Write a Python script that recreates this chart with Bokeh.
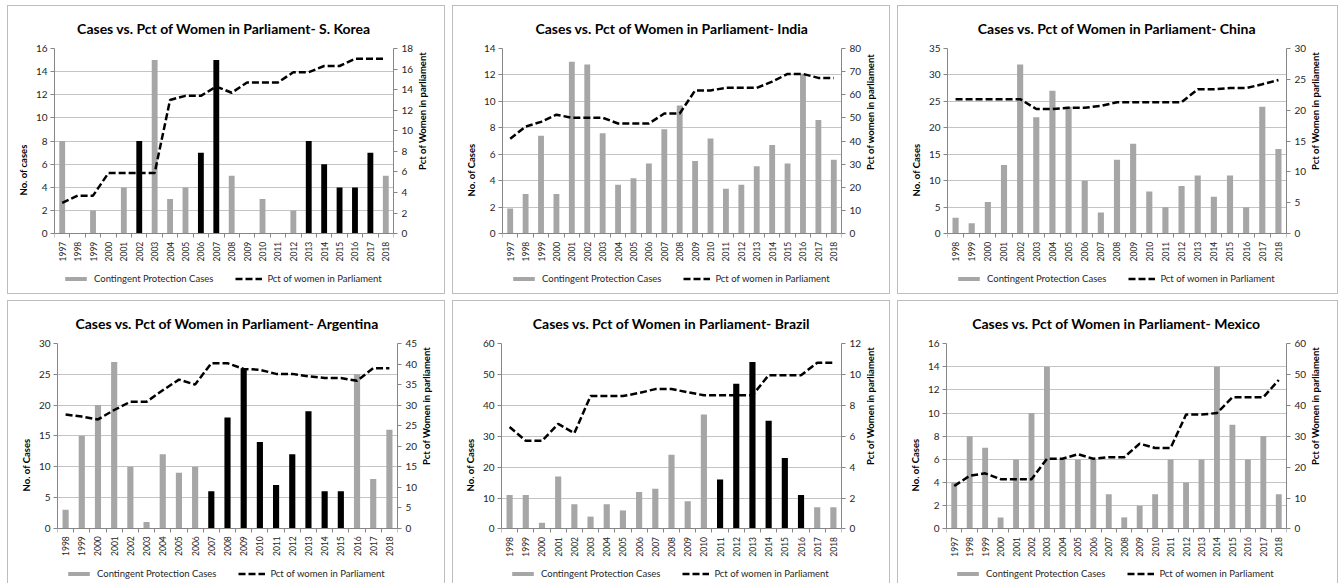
import math

from bokeh.plotting import figure
from bokeh.models import (ColumnDataSource, Range1d, LinearAxis, FixedTicker,
                          Legend, LegendItem)
from bokeh.layouts import row, column
from bokeh.embed import file_html
from bokeh.resources import INLINE

# ---- data -------------------------------------------------------------
korea_years = list(range(1997, 2019))
korea_cases = [8, 0, 2, 0, 4, 8, 15, 3, 4, 7, 15, 5, 0, 3, 0, 2, 8, 6, 4, 4, 7, 5]
korea_pct = [3.0, 3.7, 3.7, 5.9, 5.9, 5.9, 5.9, 13.0, 13.4, 13.4, 14.3, 13.7,
             14.7, 14.7, 14.7, 15.7, 15.7, 16.3, 16.3, 17.0, 17.0, 17.0]
korea_dark = [2002, 2006, 2007, 2013, 2014, 2015, 2016, 2017]

india_years = list(range(1997, 2019))
india_cases = [1.9, 3.0, 7.4, 3.0, 13.0, 12.8, 7.6, 3.7, 4.2, 5.3, 7.9, 9.7,
               5.5, 7.2, 3.4, 3.7, 5.1, 6.7, 5.3, 12.1, 8.6, 5.6]
india_pct = [41.0, 46.3, 48.3, 51.4, 50.1, 50.1, 50.1, 47.6, 47.6, 47.6, 51.9,
             51.9, 61.9, 61.9, 63.0, 63.0, 63.0, 65.7, 69.0, 69.0, 67.3, 67.3]
india_dark = []

china_years = list(range(1998, 2019))
china_cases = [3, 2, 6, 13, 32, 22, 27, 24, 10, 4, 14, 17, 8, 5, 9, 11, 7, 11,
               5, 24, 16]
china_pct = [21.8, 21.8, 21.8, 21.8, 21.8, 20.2, 20.2, 20.4, 20.4, 20.7, 21.3,
             21.3, 21.3, 21.3, 21.3, 23.4, 23.4, 23.6, 23.6, 24.2, 24.9]
china_dark = []

argentina_years = list(range(1998, 2019))
argentina_cases = [3, 15, 20, 27, 10, 1, 12, 9, 10, 6, 18, 26, 14, 7, 12, 19,
                   6, 6, 25, 8, 16]
argentina_pct = [27.7, 27.2, 26.5, 28.8, 30.8, 30.8, 33.6, 36.2, 35.0, 40.2,
                 40.2, 38.8, 38.6, 37.6, 37.6, 37.0, 36.6, 36.6, 35.9, 39.0, 39.0]
argentina_dark = list(range(2007, 2016))

brazil_years = list(range(1998, 2019))
brazil_cases = [11, 11, 2, 17, 8, 4, 8, 6, 12, 13, 24, 9, 37, 16, 47, 54, 35,
                23, 11, 7, 7]
brazil_pct = [6.6, 5.7, 5.7, 6.8, 6.2, 8.6, 8.6, 8.6, 8.8, 9.05, 9.05, 8.85,
              8.65, 8.65, 8.65, 8.65, 9.95, 9.95, 9.95, 10.75, 10.75]
brazil_dark = list(range(2011, 2017))

mexico_years = list(range(1997, 2019))
mexico_cases = [4, 8, 7, 1, 6, 10, 14, 6, 6, 6, 3, 1, 2, 3, 6, 4, 6, 14, 9, 6,
                8, 3]
mexico_pct = [13.9, 17.2, 18.0, 16.1, 16.1, 16.1, 22.7, 22.7, 24.2, 22.7, 23.2,
              23.2, 27.6, 26.2, 26.2, 37.0, 37.0, 37.5, 42.6, 42.6, 42.6, 48.2]
mexico_dark = []

BAR_LABEL = "Contingent Protection Cases"
LINE_LABEL = "Pct of women in Parliament"

# ---- styling ----------------------------------------------------------
FONT = "Lato"
BAR_GREY = "#a6a6a6"
AXIS_GREY = "#868686"
GRID_GREY = "#c4c4c4"
TEXT = "#262626"
UPRIGHT = math.pi / 2  # text reading bottom-to-top
BOTTOM_PAD = 2         # canvas space left under the plotting frame


def style_ticks(axis, size):
    axis.major_label_text_font = FONT
    axis.major_label_text_font_size = size
    axis.major_label_text_color = TEXT
    axis.axis_line_color = AXIS_GREY


def style_label(axis, text, standoff):
    axis.axis_label = text
    axis.axis_label_text_font = FONT
    axis.axis_label_text_font_size = "9.5px"
    axis.axis_label_text_font_style = "bold"
    axis.axis_label_text_color = "black"
    axis.axis_label_standoff = standoff


def panel(title, years, cases, pct, dark, cmax, cstep, pmax, pstep,
          left_label, right_label, width, height, margins):
    n = len(years)
    xs = list(range(n))
    colors = ["black" if y in dark else BAR_GREY for y in years]
    src = ColumnDataSource(dict(x=xs, cases=cases, pct=pct, color=colors))

    # The frame reaches down to the panel bottom so the year labels and the
    # legend live inside it; the value axes only cover 0..max via bounds.
    left, right, top, plot_h = margins
    frame_h = height - top - BOTTOM_PAD
    spare = frame_h - plot_h
    c_start = -cmax * spare / plot_h
    p_start = -pmax * spare / plot_h

    p = figure(width=width, height=height, output_backend="svg",
               toolbar_location=None,
               x_range=Range1d(-0.5, n - 0.5), y_range=Range1d(c_start, cmax),
               min_border_left=left, min_border_right=right,
               min_border_top=top, min_border_bottom=BOTTOM_PAD)
    p.extra_y_ranges = {"pct": Range1d(p_start, pmax)}
    p.outline_line_color = None
    p.background_fill_color = "white"
    p.border_fill_color = "white"
    # thin grey frame around each chart panel
    p.styles = {"outline": "1px solid #bdbdbd"}

    bars = p.vbar(x="x", top="cases", bottom=0, width=0.38, fill_color="color",
                  line_color=None, source=src)
    line = p.line(x="x", y="pct", y_range_name="pct", line_color="black",
                  line_width=2.5, line_dash="7 3", source=src)

    # title
    p.title.text = title
    p.title.align = "center"
    p.title.text_font = FONT
    p.title.text_font_size = "14px"
    p.title.text_font_style = "bold"
    p.title.text_color = "black"
    p.title.standoff = 23

    # x axis on the zero line: year labels centred on bars,
    # tick marks between categories
    xa = p.xaxis[0]
    xa.fixed_location = 0
    xa.ticker = FixedTicker(ticks=xs, minor_ticks=[i - 0.5 for i in range(n + 1)])
    xa.major_label_overrides = {i: str(y) for i, y in enumerate(years)}
    xa.major_label_orientation = UPRIGHT
    xa.major_tick_line_color = None
    xa.major_tick_out = 0
    xa.major_tick_in = 0
    xa.minor_tick_out = 4
    xa.minor_tick_in = 0
    xa.minor_tick_line_color = AXIS_GREY
    xa.major_label_standoff = 4
    style_ticks(xa, "8.5px")
    p.xgrid.grid_line_color = None

    # left axis: number of cases
    cticks = list(range(0, cmax + 1, cstep))
    ya = p.yaxis[0]
    ya.ticker = FixedTicker(ticks=cticks)
    ya.bounds = (0, cmax)
    ya.minor_tick_line_color = None
    ya.major_tick_out = 4
    ya.major_tick_in = 0
    ya.major_tick_line_color = AXIS_GREY
    ya.major_label_standoff = 3
    style_ticks(ya, "10px")
    style_label(ya, left_label, 4)
    p.ygrid.ticker = FixedTicker(ticks=cticks)
    p.ygrid.grid_line_color = GRID_GREY

    # right axis: percentage of women in parliament
    ra = LinearAxis(y_range_name="pct",
                    ticker=FixedTicker(ticks=list(range(0, pmax + 1, pstep))))
    ra.bounds = (0, pmax)
    ra.minor_tick_line_color = None
    ra.major_tick_out = 4
    ra.major_tick_in = 0
    ra.major_tick_line_color = AXIS_GREY
    ra.major_label_standoff = 4
    style_ticks(ra, "10px")
    style_label(ra, right_label, 6)
    if "axis_label_orientation" in ra.properties():
        ra.axis_label_orientation = UPRIGHT
    p.add_layout(ra, "right")

    # legend under the year labels
    legend = Legend(items=[LegendItem(label=BAR_LABEL, renderers=[bars], index=0),
                           LegendItem(label=LINE_LABEL, renderers=[line])],
                    orientation="horizontal", location=(8, 7),
                    glyph_width=27, glyph_height=5, label_height=12,
                    label_standoff=5, spacing=22, padding=0, margin=0,
                    border_line_color=None, background_fill_alpha=0,
                    label_text_font=FONT, label_text_font_size="9.5px",
                    label_text_color=TEXT)
    p.add_layout(legend)
    return p


TOP_H = 287
BOT_H = 287

p1 = panel("Cases vs. Pct of Women in Parliament- S. Korea", korea_years,
           korea_cases, korea_pct, korea_dark, 16, 2, 18, 2,
           "No. of cases", "Pct of Women in parliament",
           436, TOP_H, (46, 51, 41, 186))
p2 = panel("Cases vs. Pct of Women in Parliament- India", india_years,
           india_cases, india_pct, india_dark, 14, 2, 80, 10,
           "No. of Cases", "Pct of women in parliament",
           436, TOP_H, (49, 48, 41, 186))
p3 = panel("Cases vs. Pct of Women in Parliament- China", china_years,
           china_cases, china_pct, china_dark, 35, 5, 30, 5,
           "No. of Cases", "Pct of Women in parliament",
           439, TOP_H, (49, 51, 41, 186))
p4 = panel("Cases vs. Pct of Women in Parliament- Argentina", argentina_years,
           argentina_cases, argentina_pct, argentina_dark, 30, 5, 45, 5,
           "No. of Cases", "Pct of Women in parliament",
           436, BOT_H, (49, 47, 39, 187))
p5 = panel("Cases vs. Pct of Women in Parliament- Brazil", brazil_years,
           brazil_cases, brazil_pct, brazil_dark, 60, 10, 12, 2,
           "No. of Cases", "Pct of Women in parliament",
           436, BOT_H, (48, 48, 40, 187))
p6 = panel("Cases vs. Pct of Women in Parliament- Mexico", mexico_years,
           mexico_cases, mexico_pct, mexico_dark, 16, 2, 60, 10,
           "No. of Cases", "Pct of Women in parliament",
           439, BOT_H, (48, 51, 40, 187))

page = column(row(p1, p2, p3, spacing=9), row(p4, p5, p6, spacing=9),
              spacing=8, margin=(6, 0, 0, 8))

open("out.html", "w").write(file_html(page, INLINE))
